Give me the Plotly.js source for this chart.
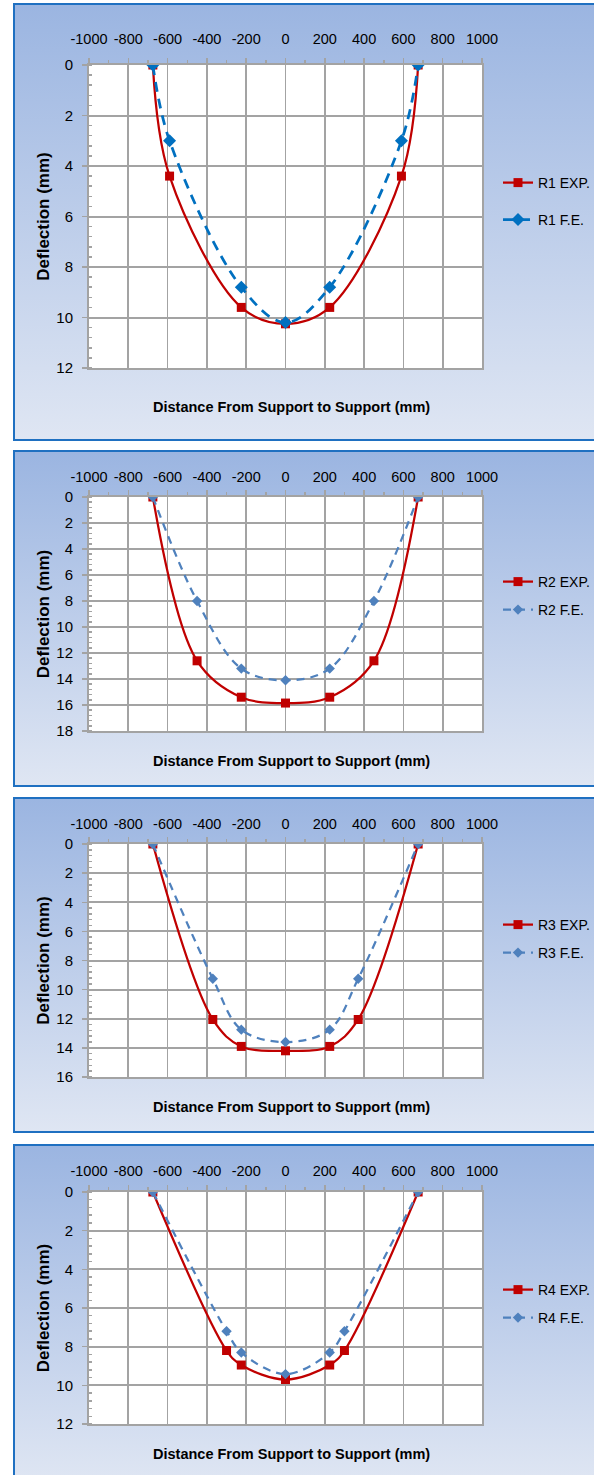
<!DOCTYPE html>
<html><head><meta charset="utf-8">
<script src="https://cdn.plot.ly/plotly-3.0.1.min.js"></script>
<style>
body{margin:0;background:#fff;width:594px;height:1475px;overflow:hidden;position:relative}
.frame{position:absolute;left:13px;width:600px;border:2px solid #1f70c1;background:linear-gradient(to bottom,#9bb5e1 0%,#dfe6f3 100%);box-sizing:border-box;overflow:hidden}
.frame>div{position:absolute;left:0;top:0}
</style></head><body>
<div class="frame" style="top:3px;height:438px"><div id="p1"></div></div>
<div class="frame" style="top:450px;height:337px"><div id="p2"></div></div>
<div class="frame" style="top:797px;height:336px"><div id="p3"></div></div>
<div class="frame" style="top:1144px;height:340px"><div id="p4"></div></div>
<script>
// ---- data ----
const xR1 = [-675, -590, -225, 0, 225, 590, 675];
const r1Exp = [0, 4.4, 9.6, 10.25, 9.6, 4.4, 0];
const r1Fe  = [0, 3.0, 8.8, 10.2, 8.8, 3.0, 0];

const xR2 = [-675, -450, -225, 0, 225, 450, 675];
const r2Exp = [0, 12.6, 15.4, 15.85, 15.4, 12.6, 0];
const r2Fe  = [0, 8.0, 13.2, 14.1, 13.2, 8.0, 0];

const xR3 = [-675, -370, -225, 0, 225, 370, 675];
const r3Exp = [0, 12.05, 13.9, 14.2, 13.9, 12.05, 0];
const r3Fe  = [0, 9.25, 12.75, 13.6, 12.75, 9.25, 0];

const xR4 = [-675, -300, -225, 0, 225, 300, 675];
const r4Exp = [0, 8.2, 8.95, 9.7, 8.95, 8.2, 0];
const r4Fe  = [0, 7.2, 8.3, 9.42, 8.3, 7.2, 0];

const expNames = ['R1 EXP.', 'R2 EXP.', 'R3 EXP.', 'R4 EXP.'];
const feNames  = ['R1 F.E.', 'R2 F.E.', 'R3 F.E.', 'R4 F.E.'];
const xTitle = 'Distance From Support to Support (mm)';
const yTitle = 'Deflection (mm)';
const xTickVals = [-1000, -800, -600, -400, -200, 0, 200, 400, 600, 800, 1000];
const xTickText = ['-1000', '-800', '-600', '-400', '-200', '0', '200', '400', '600', '800', '1000'];

// ---- layout of panels (page pixels) ----
const FONT = "'Liberation Sans', Arial, sans-serif";
const BOLD = "'Liberation Sans', Arial, sans-serif";
const panels = [
  {id:'p1', x:xR1, exp:r1Exp, fe:r1Fe, ymax:12, frameTop:3, frameH:438, plotTop:65, plotBot:368, leg:[183,220], titleY:407, xstand:9, feColor:'#0070c0', feSize:10, feWidth:2.75, dash:'10px,7px'},
  {id:'p2', x:xR2, exp:r2Exp, fe:r2Fe, ymax:18, frameTop:450, frameH:337, plotTop:497, plotBot:731, leg:[582,610], titleY:761, xstand:3, feColor:'#4f81bd', feSize:8, feWidth:2.25, dash:'8px,6px'},
  {id:'p3', x:xR3, exp:r3Exp, fe:r3Fe, ymax:16, frameTop:797, frameH:336, plotTop:844, plotBot:1077, leg:[925,953], titleY:1107, xstand:3, feColor:'#4f81bd', feSize:8, feWidth:2.25, dash:'8px,6px'},
  {id:'p4', x:xR4, exp:r4Exp, fe:r4Fe, ymax:12, frameTop:1144, frameH:340, plotTop:1192, plotBot:1424, leg:[1290,1318], titleY:1454, xstand:4, feColor:'#4f81bd', feSize:8, feWidth:2.25, dash:'8px,6px'}
];
const innerLeft = 15, plotLeft = 89, plotRight = 482;
const W = 594 - innerLeft;
const GRID = '#a3a3a3';

panels.forEach((p, i) => {
  const innerTop = p.frameTop + 2;
  const H = p.frameH - 4;
  const ph = p.plotBot - p.plotTop;
  const pw = plotRight - plotLeft;
  const mt = p.plotTop - innerTop;
  const mb = H - mt - ph;
  const ml = plotLeft - innerLeft;
  const mr = W - ml - pw;
  const legX = (498 - innerLeft) / W;
  const legY = (k) => 1 - (p.leg[k] - innerTop) / H;

  const traces = [
    {x:p.x, y:p.exp, name:expNames[i], type:'scatter', mode:'lines+markers', legend:'legend', showlegend:true,
     line:{color:'#c00000', width:2.25, shape:'spline', smoothing:1},
     marker:{symbol:'square', size:9, color:'#c00000'}},
    {x:p.x, y:p.fe, name:feNames[i], type:'scatter', mode:'lines+markers', legend:'legend2', showlegend:true,
     line:{color:p.feColor, width:p.feWidth, dash:p.dash, shape:'spline', smoothing:1},
     marker:{symbol:'diamond', size:p.feSize, color:p.feColor}}
  ];
  const legBase = {xref:'container', yref:'container', xanchor:'left', yanchor:'middle', x:legX,
    bgcolor:'rgba(0,0,0,0)', visible:true, font:{family:FONT, size:14, color:'#000'}};
  const layout = {
    width:W, height:H, showlegend:true,
    margin:{l:ml, r:mr, t:mt, b:mb, pad:0, autoexpand:false},
    paper_bgcolor:'rgba(0,0,0,0)', plot_bgcolor:'#ffffff',
    font:{family:FONT, size:14, color:'#000'},
    xaxis:{range:[-1000,1000], side:'top', tickmode:'array', tickvals:xTickVals, ticktext:xTickText, tickangle:0,
      showgrid:true, gridcolor:GRID, gridwidth:1.7, zeroline:false,
      showline:true, linecolor:GRID, linewidth:1.7, mirror:true,
      ticks:'outside', ticklen:5, tickcolor:GRID, tickwidth:1.5,
      ticklabelstandoff:p.xstand,
      minor:{dtick:100, ticks:'outside', ticklen:3, tickcolor:GRID, showgrid:false},
      tickfont:{family:FONT, size:14.5, color:'#000'}, fixedrange:true},
    yaxis:{range:[p.ymax,0], dtick:2, tick0:0,
      showgrid:true, gridcolor:GRID, gridwidth:2, zeroline:false,
      showline:true, linecolor:GRID, linewidth:2, mirror:true,
      ticks:'outside', ticklen:5, tickcolor:GRID, tickwidth:1.5,
      ticklabelstandoff:6,
      minor:{dtick:0.4, ticks:'inside', ticklen:3, tickcolor:GRID, showgrid:false},
      tickfont:{family:FONT, size:15, color:'#000'}, fixedrange:true,
      title:{text:yTitle, font:{family:BOLD, size:17, color:'#000', weight:'bold'}, standoff:2}},
    legend:Object.assign({}, legBase, {y:legY(0)}),
    legend2:Object.assign({}, legBase, {y:legY(1)}),
    annotations:[{text:xTitle, xref:'paper', yref:'paper', x:0.5, y:0, xanchor:'center', yanchor:'middle',
      xshift:6, yshift:-(p.titleY - p.plotBot), showarrow:false,
      font:{family:BOLD, size:14.5, color:'#000', weight:'bold'}}]
  };
  Plotly.newPlot(p.id, traces, layout, {displayModeBar:false, staticPlot:true});
});
</script>
</body></html>
